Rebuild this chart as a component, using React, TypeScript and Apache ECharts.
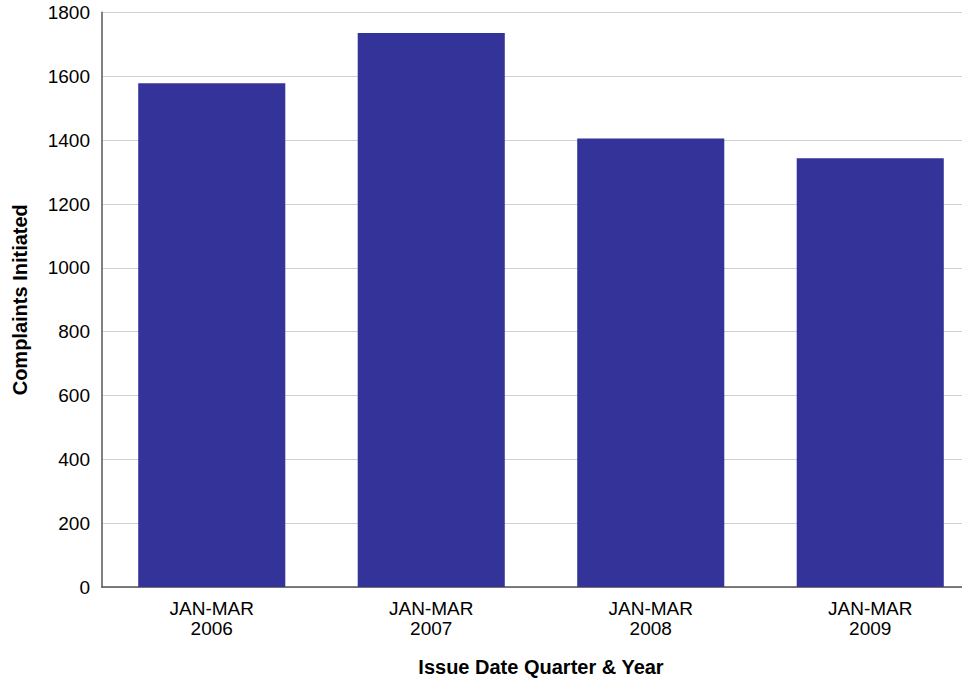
import React, { useEffect, useRef } from "react";
import * as echarts from "echarts";

const categories = ["JAN-MAR\n2006", "JAN-MAR\n2007", "JAN-MAR\n2008", "JAN-MAR\n2009"];
const complaints = [1578, 1736, 1405, 1343];
const yTicks = { min: 0, max: 1800, interval: 200 };

const FONT = "'Liberation Sans', Arial, sans-serif";

export default function App() {
  const ref = useRef<HTMLDivElement>(null);
  useEffect(() => {
    document.body.style.margin = "0";
    document.body.style.overflow = "hidden";
    const chart = echarts.init(ref.current!, null, { renderer: "svg" });
    chart.setOption({
      animation: false,
      backgroundColor: "#ffffff",
      grid: { left: 102, width: 878, top: 12.5, height: 581, containLabel: false },
      xAxis: {
        type: "category",
        data: categories,
        axisLine: { show: true, lineStyle: { color: "#555555", width: 1.5 } },
        axisTick: { show: false },
        axisLabel: { color: "#000", fontFamily: FONT, fontSize: 19, lineHeight: 20, margin: 11 },
        name: "Issue Date Quarter & Year",
        nameLocation: "middle",
        nameGap: 70,
        nameTextStyle: { color: "#000", fontFamily: FONT, fontSize: 20, fontWeight: "bold" },
      },
      yAxis: {
        type: "value",
        min: yTicks.min,
        max: yTicks.max,
        interval: yTicks.interval,
        axisLine: { show: true, lineStyle: { color: "#808080", width: 2 } },
        axisTick: { show: false },
        splitLine: { show: true, lineStyle: { color: "#d0d0d0", width: 1 } },
        axisLabel: {
          color: "#000",
          fontFamily: FONT,
          fontSize: 19,
          margin: 12,
          formatter: (v: number) => String(v),
        },
        name: "Complaints Initiated",
        nameLocation: "middle",
        nameGap: 72,
        nameTextStyle: { color: "#000", fontFamily: FONT, fontSize: 20, fontWeight: "bold" },
      },
      series: [
        {
          type: "bar",
          data: complaints,
          barWidth: "67%",
          itemStyle: { color: "#333399" },
        },
      ],
    });
    return () => chart.dispose();
  }, []);
  return (
    <div
      ref={ref}
      style={{ position: "fixed", left: 0, top: 0, width: 980, height: 682 }}
    />
  );
}
